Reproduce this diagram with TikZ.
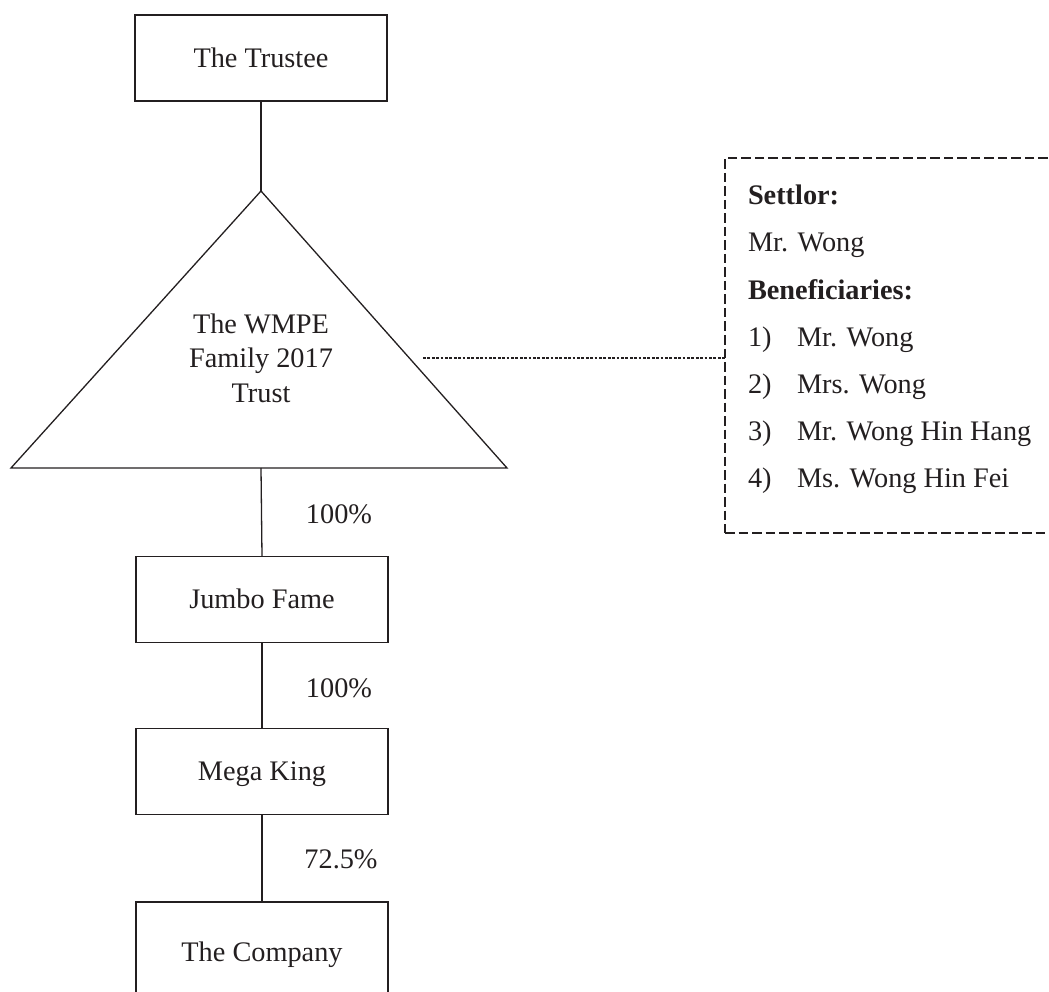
\documentclass[tikz,border=0pt]{standalone}
\usepackage{fontspec}
\setmainfont{Liberation Serif}
\definecolor{ink}{HTML}{231F20}
\begin{document}
\begin{tikzpicture}[x=1pt,y=-1pt,
  every node/.style={inner sep=0pt, outer sep=0pt, text=ink, font=\fontsize{28.3}{34.5}\selectfont},
  entity/.style={draw=ink, line width=1.3pt, minimum width=252pt, minimum height=86pt, text height=18.7pt, text depth=0pt},
  link/.style={draw=ink, line width=1.3pt},
  pct/.style={anchor=base},
  note/.style={anchor=base west},
  notebox/.style={draw=ink, line width=1.8pt, dash pattern=on 9.5pt off 4pt, anchor=north west, minimum width=345pt, minimum height=375pt},
  dotline/.style={draw=ink, line width=2pt, dash pattern=on 2.7pt off 1.7pt}]
\useasboundingbox (0,0) rectangle (1049,992);
\clip (0,0) rectangle (1049,992);

% entities
\node[entity] (trustee) at (261,58) {The Trustee};
\node[entity] (jumbo) at (262,599.5) {Jumbo Fame};
\node[entity] (mega) at (262,771.5) {Mega King};
\node[entity, minimum height=100pt] (company) at (262,952) {The Company};

% trust triangle
\coordinate (apex) at (261,191);
\coordinate (bl) at (11,468);
\coordinate (br) at (507,468);
\coordinate (base) at (261,468);
\draw[link, line join=miter] (apex) -- (br) -- (bl) -- cycle;
\node[anchor=base, align=center] (trust) at (261,402) {The WMPE\\Family 2017\\Trust};

% connectors
\draw[link] (trustee.south) -- (apex);
\draw[link] (base) -- (jumbo.north);
\draw[link] (jumbo.south) -- (mega.north);
\draw[link] (mega.south) -- (company.north);

% percentages
\node[pct] (p1) at (339,523) {100\%};
\node[pct] (p2) at (339,697) {100\%};
\node[pct] (p3) at (341,868) {72.5\%};

% note box
\node[notebox] (box) at (725,158) {};
\coordinate (dstart) at (423,358);
\draw[dotline] (dstart) -- (box.west |- dstart);

\node[note] (settlor) at (748,205) {\textbf{Settlor:}};
\node[note] (mrw) at (748,252) {Mr. Wong};
\node[note] (bene) at (748,299) {\textbf{Beneficiaries:}};
\node[note] (b1n) at (748,346) {1)};
\node[note] (b1) at (797,346) {Mr. Wong};
\node[note] (b2n) at (748,393) {2)};
\node[note] (b2) at (797,393) {Mrs. Wong};
\node[note] (b3n) at (748,440) {3)};
\node[note] (b3) at (797,440) {Mr. Wong Hin Hang};
\node[note] (b4n) at (748,487) {4)};
\node[note] (b4) at (797,487) {Ms. Wong Hin Fei};
\end{tikzpicture}
\end{document}
